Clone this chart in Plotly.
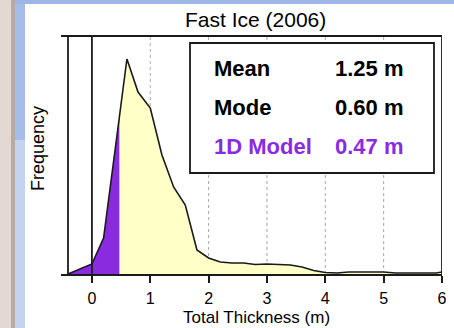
import numpy as np
import plotly.graph_objects as go

# ---- data ----
thickness = [-0.41, 0.0, 0.2, 0.6, 0.79, 1.0, 1.2, 1.4, 1.6, 1.8, 2.0, 2.2, 2.4, 2.6,
             2.8, 3.0, 3.4, 3.6, 3.8, 4.0, 4.2, 4.4, 5.0, 5.2, 5.9, 6.0]
frequency = [0.0, 1.0, 3.6, 21.5, 18.2, 16.6, 11.9, 8.7, 6.9, 2.4, 1.6, 1.2, 1.1, 1.1,
             0.95, 1.0, 0.9, 0.7, 0.35, 0.15, 0.1, 0.2, 0.2, 0.1, 0.1, 0.2]
model_thickness = 0.47
stats_labels = ["Mean", "Mode", "1D Model"]
stats_values = ["1.25 m", "0.60 m", "0.47 m"]
tick_vals = [0, 1, 2, 3, 4, 5, 6]
grid_vals = [1, 2, 3, 4, 5]

W, H = 454, 328
ML, MR, MT, MB = 61, 12, 36, 54
XR = [-0.53, 6.0]
YR = [0, 23.8]

def px_x(px):
    return (px - ML) / (W - ML - MR)

def px_y(py):
    return (H - MB - py) / (H - MT - MB)

PURPLE = "#8a2be2"
YELLOW = "#ffffc8"
LINEC = "#1a1a1a"

x = np.array(thickness)
y = np.array(frequency)

fig = go.Figure()
# yellow whole area
fig.add_trace(go.Scatter(x=x, y=y, mode="lines", fill="tozeroy",
                         fillcolor=YELLOW, line=dict(width=0), hoverinfo="skip"))
# purple part up to model thickness
mask = x < model_thickness
px_ = np.concatenate([x[mask], [model_thickness]])
py_ = np.concatenate([y[mask], [np.interp(model_thickness, x, y)]])
fig.add_trace(go.Scatter(x=px_, y=py_, mode="lines", fill="tozeroy",
                         fillcolor=PURPLE, line=dict(width=0), hoverinfo="skip"))
# outline
fig.add_trace(go.Scatter(x=x, y=y, mode="lines",
                         line=dict(color=LINEC, width=1.6), hoverinfo="skip"))

shapes = []
# page background strips
shapes += [
    dict(type="rect", xref="paper", yref="paper", x0=px_x(0), x1=px_x(11), y0=px_y(H), y1=px_y(0),
         fillcolor="#e3d8d2", line_width=0, layer="below"),
    dict(type="rect", xref="paper", yref="paper", x0=px_x(11), x1=px_x(15), y0=px_y(H), y1=px_y(0),
         fillcolor="#b9aaa2", line_width=0, layer="below"),
    dict(type="rect", xref="paper", yref="paper", x0=px_x(15), x1=px_x(25), y0=px_y(H), y1=px_y(0),
         fillcolor="#c4d3f0", line_width=0, layer="below"),
    dict(type="rect", xref="paper", yref="paper", x0=px_x(15), x1=px_x(25), y0=px_y(140), y1=px_y(0),
         fillcolor="#a6bde9", line_width=0, layer="below"),
    dict(type="rect", xref="paper", yref="paper", x0=px_x(15), x1=px_x(W), y0=px_y(4), y1=px_y(0),
         fillcolor="#9db6e6", line_width=0, layer="below"),
]
# frame lines
shapes += [
    dict(type="line", xref="paper", yref="paper", x0=0, x1=1, y0=1, y1=1,
         line=dict(color=LINEC, width=1.8)),
    dict(type="line", xref="x", yref="paper", x0=XR[1], x1=XR[1], y0=0, y1=1,
         line=dict(color=LINEC, width=1.8)),
    dict(type="line", xref="x", yref="paper", x0=thickness[0], x1=thickness[0], y0=0, y1=1,
         line=dict(color=LINEC, width=1.8)),
    dict(type="line", xref="x", yref="paper", x0=0, x1=0, y0=0, y1=1,
         line=dict(color=LINEC, width=1.8)),
]
# stats box
shapes.append(dict(type="rect", xref="paper", yref="paper",
                   x0=px_x(190), x1=px_x(434), y0=px_y(173), y1=px_y(43),
                   fillcolor="white", line=dict(color=LINEC, width=1.8), layer="above"))

annotations = []
row_y = [69, 107, 146]
for lab, val, ry in zip(stats_labels, stats_values, row_y):
    col = PURPLE if lab == "1D Model" else "black"
    annotations.append(dict(xref="paper", yref="paper", x=px_x(212), y=px_y(ry),
                            xanchor="left", yanchor="middle", showarrow=False,
                            text=f"<b>{lab}</b>", font=dict(size=22, color=col)))
    annotations.append(dict(xref="paper", yref="paper", x=px_x(406), y=px_y(ry),
                            xanchor="right", yanchor="middle", showarrow=False,
                            text=f"<b>{val}</b>", font=dict(size=22, color=col)))
annotations.append(dict(xref="paper", yref="paper", x=px_x(255), y=px_y(19),
                        xanchor="center", yanchor="middle", showarrow=False,
                        text="Fast Ice (2006)", font=dict(size=21, color="black")))
annotations.append(dict(xref="paper", yref="paper", x=px_x(256), y=px_y(317),
                        xanchor="center", yanchor="middle", showarrow=False,
                        text="Total Thickness (m)", font=dict(size=17, color="black")))
annotations.append(dict(xref="paper", yref="paper", x=px_x(38), y=px_y(149),
                        xanchor="center", yanchor="middle", showarrow=False, textangle=-90,
                        text="Frequency", font=dict(size=18, color="black")))

fig.update_layout(
    width=W, height=H,
    margin=dict(l=ML, r=MR, t=MT, b=MB, pad=0),
    paper_bgcolor="white", plot_bgcolor="white",
    showlegend=False,
    font=dict(family="Liberation Sans, Arial, sans-serif", color="black"),
    shapes=shapes, annotations=annotations,
    xaxis=dict(range=XR, tickvals=tick_vals, ticktext=[str(v) for v in tick_vals],
               ticks="outside", ticklen=7, tickwidth=1.6, tickcolor=LINEC,
               showline=True, linecolor=LINEC, linewidth=1.8,
               showgrid=False, zeroline=False, tickfont=dict(size=16),
               ticklabelstandoff=2,
               automargin=False, fixedrange=True),
    yaxis=dict(range=YR, showticklabels=False, showgrid=False, zeroline=False,
               showline=False, ticks="", automargin=False, fixedrange=True),
)
# dotted gridlines
for g in grid_vals:
    fig.add_shape(type="line", xref="x", yref="paper", x0=g, x1=g, y0=0, y1=1,
                  line=dict(color="#a8a8a8", width=1, dash="dot"), layer="below")

fig.write_html("out.html")
